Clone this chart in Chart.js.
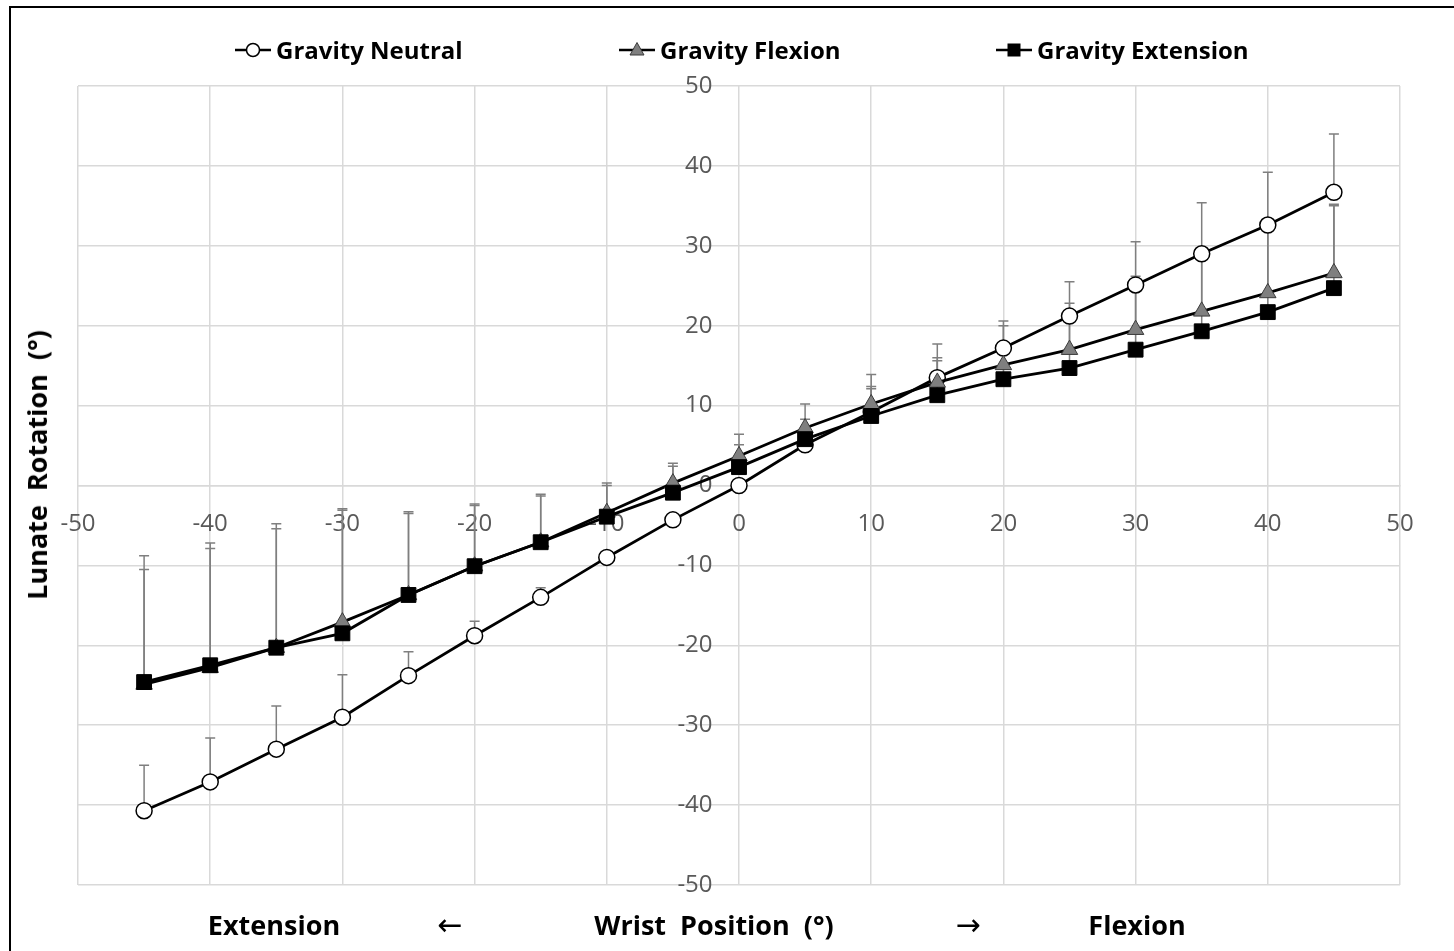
<!DOCTYPE html>
<html>
<head>
<meta charset="utf-8">
<script src="https://cdn.jsdelivr.net/npm/chart.js@4.4.1/dist/chart.umd.min.js"></script>
<style>
  html, body { margin: 0; padding: 0; background: #fff; overflow: hidden; }
  body { width: 1454px; height: 951px; position: relative; font-family: 'Open Sans', sans-serif; color: #000; }
  .frame { position: absolute; left: 9px; top: 6px; width: 1500px; height: 1000px;
           border-left: 2.5px solid #000; border-top: 2.5px solid #000; }
  #chart { position: absolute; left: 0; top: 0; }
  .legend-item { position: absolute; top: 34px; height: 32px; line-height: 32px; display: flex; align-items: center;
                 font-weight: 700; font-size: 24px; white-space: nowrap; }
  .legend-item svg { margin-right: 5px; }
  .legend-item:nth-child(1) { left: 235px; }
  .legend-item:nth-child(2) { left: 619px; }
  .legend-item:nth-child(3) { left: 996px; }
  .x-title span { position: absolute; top: 907px; line-height: 36px; transform: translateX(-50%);
                  font-weight: 700; font-size: 27px; white-space: pre; }
  .x-title .arrow { font-family: 'DejaVu Sans', sans-serif; font-weight: 400; font-size: 30px; }
  .y-title { position: absolute; left: 37px; top: 465px; transform: translate(-50%, -50%) rotate(-90deg);
             font-weight: 700; font-size: 27px; line-height: 36px; white-space: pre; }
</style>
</head>
<body>
<div class="frame"></div>
<canvas id="chart" width="1454" height="951"></canvas>
<div id="legend"></div>
<div class="y-title">Lunate  Rotation  (°)</div>
<div class="x-title">
  <span style="left:274px">Extension</span>
  <span class="arrow" style="left:450px">←</span>
  <span style="left:714px">Wrist  Position  (°)</span>
  <span class="arrow" style="left:968px">→</span>
  <span style="left:1137px">Flexion</span>
</div>
<script>
// wrist angle in degrees (negative = extension, positive = flexion)
const positions = [-45, -40, -35, -30, -25, -20, -15, -10, -5, 0, 5, 10, 15, 20, 25, 30, 35, 40, 45]

// mean lunate rotation per gravity condition
const neutral   = [-40.7, -37.1, -33.0, -29.0, -23.8, -18.8, -14.0, -9.0, -4.3, 0.0, 5.1, 9.2, 13.5, 17.2, 21.2, 25.1, 29.0, 32.6, 36.7]
const flexion   = [-24.9, -22.8, -20.3, -17.1, -13.7, -10.1, -7.1, -3.4, 0.3, 3.7, 7.2, 10.2, 12.9, 15.1, 17.0, 19.5, 21.8, 24.1, 26.6]
const extension = [-24.6, -22.5, -20.3, -18.5, -13.7, -10.1, -7.1, -3.9, -0.9, 2.3, 5.8, 8.7, 11.3, 13.3, 14.7, 17.0, 19.3, 21.7, 24.7]

// standard deviations (drawn upward only)
const neutralSd   = [5.7, 5.5, 5.4, 5.3, 3.0, 1.8, 1.2, 0.6, 0.6, 0.5, 0.6, 3.2, 4.2, 3.4, 4.3, 5.4, 6.4, 6.6, 7.3]
const flexionSd   = [14.4, 14.9, 14.9, 14.2, 10.4, 7.8, 6.0, 3.7, 2.5, 2.7, 3.0, 3.7, 3.1, 4.9, 5.8, 6.7, 7.2, 8.5, 8.6]
const extensionSd = [15.8, 15.3, 15.5, 15.4, 10.2, 7.6, 5.8, 3.9, 3.3, 2.8, 2.5, 3.4, 4.3, 3.9, 6.3, 8.0, 9.4, 10.7, 10.3]

const axisTicks = [-50, -40, -30, -20, -10, 0, 10, 20, 30, 40, 50]

const GRID  = '#d9d9d9'
const LABEL = '#595959'

const points = ys => positions.map((x, i) => ({ x, y: ys[i] }))

// vertical whiskers with a small cap at mean + sd
const errorBars = {
  id: 'errorBars',
  beforeDatasetsDraw(chart) {
    const { ctx, scales: { x, y } } = chart
    ctx.save()
    ctx.strokeStyle = '#7f7f7f'
    ctx.lineWidth = 1.5
    chart.data.datasets.forEach(ds => {
      ds.data.forEach((p, i) => {
        const px  = x.getPixelForValue(p.x)
        const py  = y.getPixelForValue(p.y)
        const top = y.getPixelForValue(p.y + ds.sd[i])
        ctx.beginPath()
        ctx.moveTo(px, py)
        ctx.lineTo(px, top)
        ctx.moveTo(px - 5, top)
        ctx.lineTo(px + 5, top)
        ctx.stroke()
      })
    })
    ctx.restore()
  }
}

const fixedTicks = scale => { scale.ticks = axisTicks.map(v => ({ value: v })) }

const axis = (crossAt, padding) => ({
  type: 'linear',
  min: -50,
  max: 50,
  position: crossAt,
  afterBuildTicks: fixedTicks,
  grid: { color: GRID, lineWidth: 1.5, drawTicks: false },
  border: { color: GRID, width: 1.5 },
  ticks: {
    color: LABEL,
    padding,
    autoSkip: false,
    maxRotation: 0,
    font: { family: 'Open Sans', size: 24 }
  }
})

// the y labels sit a little left of the zero line; the line itself comes from the x grid
const yAxis = axis({ x: -2 }, 0)
yAxis.border = { display: false }

const datasets = [
  {
    label: 'Gravity Neutral', data: points(neutral), sd: neutralSd, order: 3,
    pointStyle: 'circle', pointRadius: 8, pointBackgroundColor: '#fff', pointBorderColor: '#000', pointBorderWidth: 1.5
  },
  {
    label: 'Gravity Flexion', data: points(flexion), sd: flexionSd, order: 2,
    pointStyle: 'triangle', pointRadius: 9.5, pointBackgroundColor: '#7f7f7f', pointBorderColor: '#3a3a3a', pointBorderWidth: 1
  },
  {
    label: 'Gravity Extension', data: points(extension), sd: extensionSd, order: 1,
    pointStyle: 'rect', pointRadius: 10.5, pointBackgroundColor: '#000', pointBorderColor: '#000', pointBorderWidth: 1
  }
].map(ds => ({ ...ds, showLine: true, borderColor: '#000', borderWidth: 2.8, pointHoverRadius: ds.pointRadius }))

new Chart(document.getElementById('chart'), {
  type: 'scatter',
  data: { datasets },
  options: {
    responsive: false,
    animation: false,
    devicePixelRatio: 1,
    layout: { padding: { left: 78, top: 86, right: 54, bottom: 66 } },
    plugins: { legend: { display: false }, tooltip: { enabled: false } },
    scales: {
      x: axis({ y: 0 }, 24),
      y: yAxis
    }
  },
  plugins: [errorBars]
})

// legend swatch: short line with the series marker in the middle
function swatch(i) {
  const marker = [
    '<circle cx="18" cy="10" r="6.5" fill="#fff" stroke="#000" stroke-width="1.5"/>',
    '<polygon points="18,2.5 25,15 11,15" fill="#7f7f7f" stroke="#3a3a3a" stroke-width="1"/>',
    '<rect x="11.5" y="3.5" width="13" height="13" fill="#000"/>'
  ][i]
  return `<svg width="36" height="20" viewBox="0 0 36 20">
    <line x1="0" y1="10" x2="36" y2="10" stroke="#000" stroke-width="2.5"/>${marker}</svg>`
}

document.getElementById('legend').innerHTML = datasets.map((ds, i) => `
  <div class="legend-item">${swatch(i)}<span>${ds.label}</span></div>
`).join('')
</script>
</body>
</html>
